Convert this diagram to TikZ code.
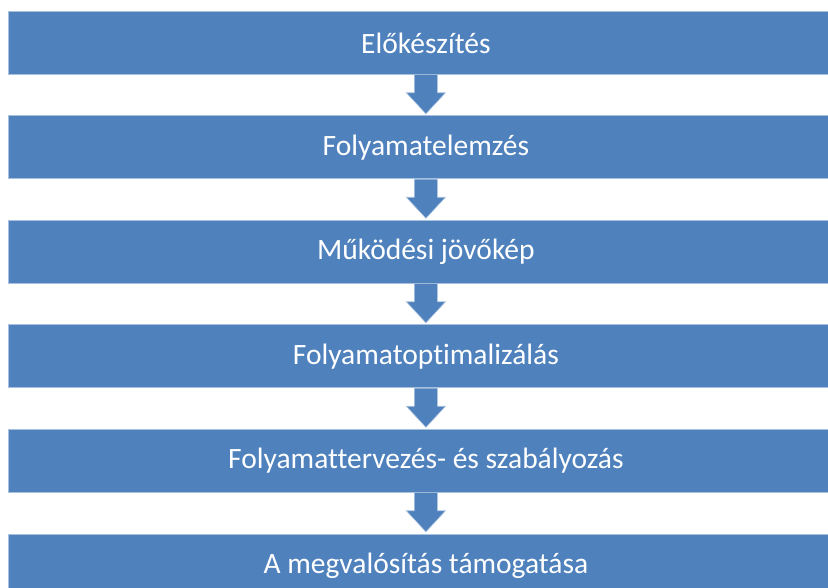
\documentclass[tikz,border=0pt]{standalone}
\usepackage{fontspec}
\setmainfont{Carlito}[Ligatures={NoCommon,NoRare}]
\usetikzlibrary{calc}
\definecolor{boxblue}{HTML}{4F81BD}
\definecolor{edgeblue}{HTML}{A7C0DE}
\tikzset{
  stagebox/.style={fill=boxblue, draw=edgeblue, line width=0.8pt, minimum width=835pt, minimum height=63pt, inner sep=0pt, text=white, font=\fontsize{29.5}{34}\selectfont, anchor=north west},
  downarrow/.style={fill=boxblue, draw=edgeblue, line width=0.6pt, line join=miter}
}
\newcommand{\blockarrow}[1]{%
  \draw[downarrow] ($(#1)+(-11.5pt,0)$) -- ++(0,-18pt) -- ++(-8pt,0) -- ++(19.5pt,-21pt) -- ++(19.5pt,21pt) -- ++(-8pt,0) -- ++(0,18pt);}
\begin{document}
\begin{tikzpicture}[x=1pt,y=1pt]
\useasboundingbox (0,0) rectangle (828,587);
\clip (0,0) rectangle (828,587);
\node[stagebox] (b1) at (8,576) {Előkészítés};
\node[stagebox] (b2) at (8,471.5) {Folyamatelemzés};
\node[stagebox] (b3) at (8,367) {Működési jövőkép};
\node[stagebox] (b4) at (8,262.5) {Folyamatoptimalizálás};
\node[stagebox] (b5) at (8,158) {Folyamattervezés- és szabályozás};
\node[stagebox] (b6) at (8,53.5) {A megvalósítás támogatása};
\coordinate (a1) at (b1.south);
\coordinate (a2) at (b2.south);
\coordinate (a3) at (b3.south);
\coordinate (a4) at (b4.south);
\coordinate (a5) at (b5.south);
\blockarrow{a1}
\blockarrow{a2}
\blockarrow{a3}
\blockarrow{a4}
\blockarrow{a5}
\end{tikzpicture}
\end{document}
